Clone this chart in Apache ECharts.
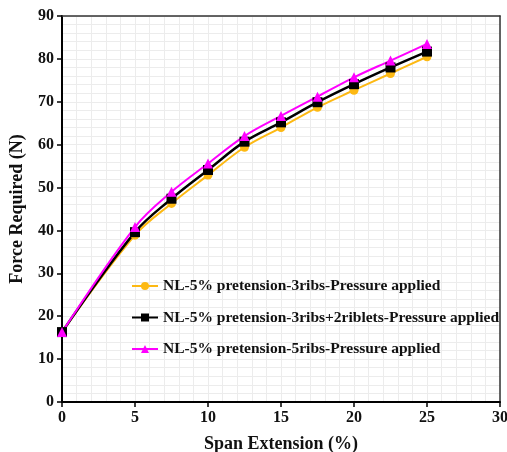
<!DOCTYPE html>
<html>
<head>
<meta charset="utf-8">
<script src="https://cdn.jsdelivr.net/npm/echarts@6/dist/echarts.min.js"></script>
<style>
  html, body { margin: 0; padding: 0; background: #fff; }
  #chart { width: 507px; height: 452px; }
</style>
</head>
<body>
<div id="chart"></div>
<script>
// span extension (%)
var spanExt = [0, 5, 7.5, 10, 12.5, 15, 17.5, 20, 22.5, 25];
// force required (N)
var ribs3 = [16.3, 38.9, 46.3, 52.9, 59.4, 64.0, 68.7, 72.7, 76.6, 80.5];
var ribs3riblets2 = [16.3, 39.6, 47.4, 54.1, 60.7, 65.2, 69.9, 74.1, 78.0, 81.7];
var ribs5 = [16.3, 40.8, 49.0, 55.6, 62.0, 66.7, 71.2, 75.7, 79.6, 83.5];
var names = [
  'NL-5% pretension-3ribs-Pressure applied',
  'NL-5% pretension-3ribs+2riblets-Pressure applied',
  'NL-5% pretension-5ribs-Pressure applied'
];

function pairs(ys) {
  var out = [];
  for (var i = 0; i < spanExt.length; i++) out.push([spanExt[i], ys[i]]);
  return out;
}

var font = 'Liberation Serif';
// plain axis used only to draw the top / right frame
function frameAxis(pos, max) {
  return {
    type: 'value', position: pos, min: 0, max: max,
    axisLine: { show: true, onZero: false, lineStyle: { color: '#333', width: 1.5 } },
    axisTick: { show: false }, axisLabel: { show: false }, splitLine: { show: false }
  };
}

var myChart = echarts.init(document.getElementById('chart'));
var option = {
  animation: false,
  grid: {
    left: 62, right: 7, top: 16, bottom: 50,
    outerBoundsMode: 'none', containLabel: false
  },
  legend: {
    orient: 'vertical',
    left: 126,
    top: 273,
    itemGap: 15.5,
    itemWidth: 26,
    itemHeight: 10,
    data: names,
    textStyle: { fontFamily: font, fontWeight: 'bold', fontSize: 15.5, color: '#111' }
  },
  xAxis: [{
    type: 'value', min: 0, max: 30, interval: 5,
    name: 'Span Extension (%)', nameLocation: 'middle', nameGap: 33,
    nameTextStyle: { fontFamily: font, fontWeight: 'bold', fontSize: 18, color: '#111' },
    axisLine: { show: true, onZero: false, lineStyle: { color: '#000', width: 2 } },
    axisTick: { show: true, length: 5, lineStyle: { color: '#000', width: 1.5 } },
    axisLabel: { fontFamily: font, fontWeight: 'bold', fontSize: 16, color: '#111', margin: 8 },
    splitLine: { show: true, lineStyle: { color: '#ececec', width: 1 } },
    minorTick: { show: false, splitNumber: 5 },
    minorSplitLine: { show: true, lineStyle: { color: '#ececec', width: 1 } }
  }, frameAxis('top', 30)],
  yAxis: [{
    type: 'value', min: 0, max: 90, interval: 10,
    name: 'Force Required (N)', nameLocation: 'middle', nameGap: 36,
    nameTextStyle: { fontFamily: font, fontWeight: 'bold', fontSize: 18, color: '#111' },
    axisLine: { show: true, onZero: false, lineStyle: { color: '#000', width: 2 } },
    axisTick: { show: true, length: 5, lineStyle: { color: '#000', width: 1.5 } },
    axisLabel: { fontFamily: font, fontWeight: 'bold', fontSize: 16, color: '#111', margin: 8 },
    splitLine: { show: true, lineStyle: { color: '#ececec', width: 1 } },
    minorTick: { show: false, splitNumber: 5 },
    minorSplitLine: { show: true, lineStyle: { color: '#ececec', width: 1 } }
  }, frameAxis('right', 90)],
  series: [
    {
      name: names[0], type: 'line', smooth: 0.35, data: pairs(ribs3),
      symbol: 'circle', symbolSize: 9,
      itemStyle: { color: '#FDB913' },
      lineStyle: { color: '#FDB913', width: 2 }
    },
    {
      name: names[1], type: 'line', smooth: 0.35, data: pairs(ribs3riblets2),
      symbol: 'rect', symbolSize: 10,
      itemStyle: { color: '#000' },
      lineStyle: { color: '#000', width: 2.5 }
    },
    {
      name: names[2], type: 'line', smooth: 0.35, data: pairs(ribs5),
      symbol: 'triangle', symbolSize: 10,
      itemStyle: { color: '#FF00FF' },
      lineStyle: { color: '#FF00FF', width: 2 }
    }
  ]
};
myChart.setOption(option);
</script>
</body>
</html>
